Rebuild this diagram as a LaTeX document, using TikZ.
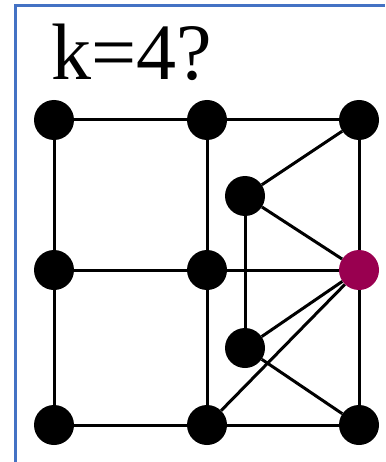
\documentclass[tikz,border=0pt]{standalone}
\usepackage{fontspec}
\setmainfont{Liberation Serif}
\definecolor{frameblue}{RGB}{68,114,196}
\definecolor{hotpink}{RGB}{153,0,80}
\begin{document}
\begin{tikzpicture}[
        x=1pt, y=-1pt,
        vertex/.style={circle, fill=black, inner sep=0pt, minimum size=40pt},
        marked/.style={vertex, fill=hotpink},
        edge/.style={line width=3pt},
        frame/.style={draw=frameblue, line width=3pt}
      ]
      \useasboundingbox (0,0) rectangle (385,462);
      \draw[frame] (15.5,462) -- (15.5,5.5) -- (385,5.5);
      \node[anchor=base west, inner sep=0pt, font=\fontsize{80}{92}\selectfont] (title) at (51,80) {k=4?};
      % grid
      \node[vertex] (tl) at (54,120) {};
      \node[vertex] (tm) at (207,120) {};
      \node[vertex] (tr) at (359,120) {};
      \node[vertex] (ml) at (54,270) {};
      \node[vertex] (mm) at (207,270) {};
      \node[marked] (mr) at (359,270) {};
      \node[vertex] (bl) at (54,425) {};
      \node[vertex] (bm) at (207,425) {};
      \node[vertex] (br) at (359,425) {};
      % inner pair
      \node[vertex] (ia) at (245,196) {};
      \node[vertex] (ib) at (245,348) {};
      \draw[edge] (tl) -- (tm) -- (tr);
      \draw[edge] (ml) -- (mm) -- (mr);
      \draw[edge] (bl) -- (bm) -- (br);
      \draw[edge] (tl) -- (ml) -- (bl);
      \draw[edge] (tm) -- (mm) -- (bm);
      \draw[edge] (tr) -- (mr) -- (br);
      \draw[edge] (ia) -- (tr);
      \draw[edge] (ia) -- (mr);
      \draw[edge] (ia) -- (ib);
      \draw[edge] (ib) -- (mr);
      \draw[edge] (ib) -- (br);
      \draw[edge] (bm) -- (mr);
\end{tikzpicture}
\end{document}
